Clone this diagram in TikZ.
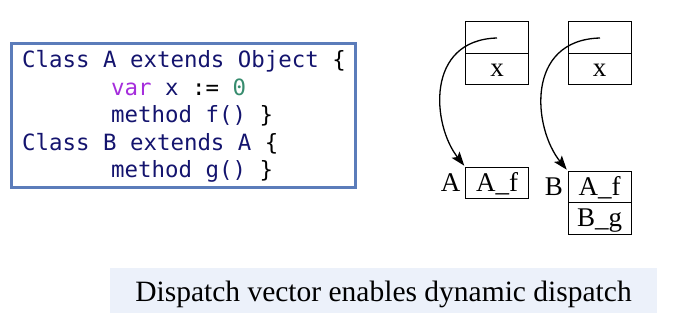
\documentclass[tikz,border=0pt]{standalone}
\usepackage{fontspec}
\setmainfont{Liberation Serif}
\setmonofont{DejaVu Sans Mono}
\usetikzlibrary{arrows.meta, positioning}

\definecolor{frameblue}{RGB}{91,124,186}
\definecolor{codenavy}{RGB}{20,20,110}
\definecolor{kwpurple}{RGB}{165,45,220}
\definecolor{numgreen}{RGB}{55,140,110}
\definecolor{capbg}{RGB}{236,241,250}

\tikzset{
  code/.style = {anchor=base west, inner sep=0pt, text=codenavy,
                 font=\ttfamily\fontsize{22.4}{22.4}\selectfont},
  cell/.style = {draw, line width=0.9pt, inner sep=0pt, outer sep=0pt,
                 minimum width=63pt, minimum height=31.5pt,
                 text height=18pt, text depth=2pt,
                 font=\fontsize{27}{27}\selectfont},
  ptr/.style  = {line width=1.3pt, -{Stealth[length=14pt, width=10pt, inset=3pt]}, shorten >=2pt}
}

\begin{document}
\begin{tikzpicture}[x=1pt, y=-1pt]
\useasboundingbox (0,0) rectangle (690,331);

% source of the two classes
\draw[frameblue, line width=3pt] (11.5,43.5) rectangle (355.5,187.5);
\node[code] (l1) at (22,68)    {Class A extends Object \textcolor{black}{\{}};
\node[code] (l2) at (111,95.5) {\textcolor{kwpurple}{var} x \textcolor{black}{:=} \textcolor{numgreen}{0}};
\node[code] (l3) at (111,123)  {method f() \textcolor{black}{\}}};
\node[code] (l4) at (22,150.5) {Class B extends A \textcolor{black}{\{}};
\node[code] (l5) at (111,178)  {method g() \textcolor{black}{\}}};

% objects: header cell + field x
\node[cell] (objA) at (497,37.5) {};
\node[cell, below=0pt of objA] (objAx) {x};
\node[cell] (objB) at (599.5,37.5) {};
\node[cell, below=0pt of objB] (objBx) {x};

% dispatch vectors
\node[cell] (vtA) at (497,183) {A\_f};
\node[cell] (vtBf) at (599.5,187) {A\_f};
\node[cell, below=0pt of vtBf] (vtBg) {B\_g};
\node[inner sep=0pt, font=\fontsize{27}{27}\selectfont, base left=5pt of vtA] (labA) {A};
\node[inner sep=0pt, font=\fontsize{27}{27}\selectfont, base left=5pt of vtBf] (labB) {B};

\coordinate (pA) at (497,38);
\coordinate (pB) at (600,38);
\draw[ptr] (pA) .. controls (425,40) and (432,125) .. (vtA.north west);
\draw[ptr] (pB) .. controls (525,40) and (533,128) .. (vtBf.north west);

\node[fill=capbg, minimum width=547pt, minimum height=45pt, inner sep=0pt,
      text height=28pt, text depth=6pt, font=\fontsize{29.5}{29.5}\selectfont]
  (cap) at (383.5,290.5) {Dispatch vector enables dynamic dispatch};
\end{tikzpicture}
\end{document}
